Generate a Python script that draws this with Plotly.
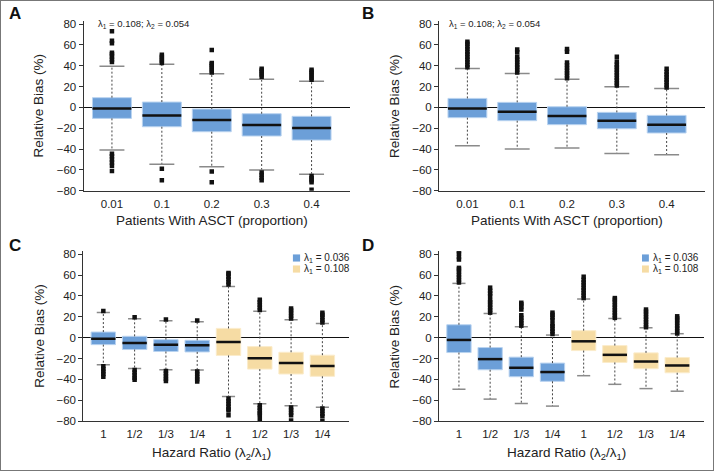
import plotly.graph_objects as go

FONT = 'Liberation Sans Narrow, Arial Narrow, Liberation Sans, Arial, sans-serif'
BLUE, BLUE_EDGE = '#6c9fd8', '#b9d3f0'
TAN, TAN_EDGE = '#f6dca4', '#fbeccb'

# ---- panel A / B: patients with ASCT (proportion) ----
asct_labels = ['0.01', '0.1', '0.2', '0.3', '0.4']

a_q1 = [-10.6, -18.6, -23.4, -27.5, -31.4]
a_med = [-1.0, -7.7, -12.2, -17.0, -19.8]
a_q3 = [9.3, 5.1, -1.6, -6.1, -8.6]
a_lo = [-41.0, -54.7, -57.0, -60.2, -64.3]
a_hi = [39.4, 41.3, 32.3, 26.9, 25.0]
a_out_hi = [
    [43.5, 46, 48.5, 51, 52.5, 61.5, 64, 73],
    [42.5, 44.5, 46.5, 48.5, 50.5],
    [33.5, 35.5, 37.5, 39.5, 41.5, 42.5, 55],
    [29.5, 31.5, 33.5, 35.5, 37],
    [26.5, 28.5, 30.5, 32.5, 34.5, 36],
]
a_out_lo = [
    [-44.5, -47, -50, -53, -56, -61],
    [-59, -70],
    [-61.5, -72],
    [-62.5, -65, -67.5, -70],
    [-66, -68, -70, -72, -79],
]

b_q1 = [-9.9, -12.8, -16.6, -20.5, -24.6]
b_med = [-1.0, -4.2, -8.3, -12.8, -16.6]
b_q3 = [8.6, 4.8, 0.6, -4.8, -7.7]
b_lo = [-36.8, -40.0, -39.0, -44.2, -45.4]
b_hi = [37.4, 32.6, 26.9, 19.8, 18.2]
b_out_hi = [
    [38.5, 41, 43.5, 46, 48.5, 51, 53.5, 56, 58.5, 61, 63],
    [33.5, 36, 38.5, 41, 43.5, 46, 48.5, 53, 55.5],
    [28, 30.5, 33, 35.5, 38, 40.5, 43, 53.5, 56],
    [21, 23.5, 26, 28.5, 31, 33.5, 36, 38.5, 41, 44, 48.5],
    [19, 21.5, 24, 26.5, 29, 31.5, 34, 37],
]
b_out_lo = [[], [], [], [], []]

# ---- panel C / D: hazard ratio (lambda2 / lambda1) ----
hr_labels = ['1', '1/2', '1/3', '1/4', '1', '1/2', '1/3', '1/4']
lambda1_groups = ['0.036', '0.108']

c_q1 = [-6.7, -11.4, -13.3, -13.7, -17.1, -30.2, -34.9, -37.1]
c_med = [-1.0, -5.1, -6.7, -7.3, -4.1, -19.7, -24.4, -27.3]
c_q3 = [5.4, 1.3, -1.9, -2.5, 8.9, -8.6, -14.0, -16.8]
c_lo = [-26.0, -29.5, -30.8, -31.1, -56.5, -63.5, -65.4, -66.7]
c_hi = [24.1, 18.1, 16.2, 15.2, 49.2, 25.4, 17.1, 13.7]
c_out_hi = [
    [25.5], [19.5], [17.5], [16.5],
    [51, 53.5, 56, 58.5, 61, 62],
    [26.5, 29, 31.5, 34, 36.5],
    [18.5, 21, 23.5, 26, 28],
    [14.5, 17, 19.5, 22, 24],
]
c_out_lo = [
    [-27.5, -30, -32.5, -35, -37.5],
    [-31, -33.5, -36, -38.5, -40.5],
    [-32, -34.5, -37, -39.5, -41.5],
    [-32.5, -35, -37.5, -40, -42],
    [-58.5, -61, -63.5, -66, -68.5, -70, -74.5],
    [-65, -67.5, -70, -72.5, -74, -78],
    [-67, -69.5, -72, -74.5, -79.5],
    [-68, -70.5, -73, -75.5, -80],
]

d_q1 = [-14.3, -30.8, -37.5, -41.9, -12.4, -23.8, -29.8, -33.7]
d_med = [-2.2, -20.6, -28.9, -33.0, -3.5, -16.5, -22.9, -26.7]
d_q3 = [12.4, -9.5, -18.7, -24.4, 6.7, -7.6, -14.6, -19.0]
d_lo = [-49.5, -59.0, -63.2, -65.7, -36.5, -44.8, -48.9, -51.4]
d_hi = [52.1, 23.2, 10.5, 2.5, 37.1, 18.4, 9.5, 3.8]
d_out_hi = [
    [53, 55.5, 58, 60.5, 63, 65.5, 67, 75, 77.5, 81, 83],
    [24, 26.5, 29, 31.5, 34, 36, 40, 42.5, 45, 48],
    [11.5, 14, 16.5, 19, 21.5, 27, 29.5, 32, 33.5],
    [3.5, 6, 8.5, 11, 13, 17, 19.5, 22, 24],
    [38, 40.5, 43, 45.5, 48, 50.5, 53, 55.5, 58.5],
    [19, 21.5, 24, 26.5, 29, 31.5, 34, 36.5, 38],
    [10, 12.5, 15, 17.5, 20, 22.5, 25, 27],
    [4, 6.5, 9, 11.5, 14, 16.5, 18.5, 20.5],
]
d_out_lo = [[] for _ in range(8)]

y_ticks = [-80, -60, -40, -20, 0, 20, 40, 60, 80]


def add_panel(fig, k, q1, med, q3, lo, hi, out_hi, out_lo, colors, edges, cap, bw=0.78):
    ax = '' if k == 1 else str(k)
    xa, ya = 'x' + ax, 'y' + ax
    pos = list(range(len(med)))
    # whiskers (dashed)
    wx, wy = [], []
    for i in pos:
        wx += [i, i, None, i, i, None]
        wy += [q3[i], hi[i], None, q1[i], lo[i], None]
    fig.add_trace(go.Scatter(x=wx, y=wy, mode='lines', xaxis=xa, yaxis=ya,
                             line=dict(color='#444', width=1, dash='2px,2px'),
                             hoverinfo='skip', showlegend=False))
    # boxes
    fig.add_trace(go.Bar(x=pos, base=q1, y=[b - a for a, b in zip(q1, q3)], width=bw,
                         marker=dict(color=colors, line=dict(color=edges, width=1)),
                         xaxis=xa, yaxis=ya, showlegend=False, hoverinfo='skip'))
    # caps
    cx, cy = [], []
    for i in pos:
        cx += [i - cap / 2, i + cap / 2, None, i - cap / 2, i + cap / 2, None]
        cy += [hi[i], hi[i], None, lo[i], lo[i], None]
    fig.add_trace(go.Scatter(x=cx, y=cy, mode='lines', xaxis=xa, yaxis=ya,
                             line=dict(color='#8a8a8a', width=1.5),
                             hoverinfo='skip', showlegend=False))
    # medians
    mx, my = [], []
    for i in pos:
        mx += [i - bw / 2, i + bw / 2, None]
        my += [med[i], med[i], None]
    fig.add_trace(go.Scatter(x=mx, y=my, mode='lines', xaxis=xa, yaxis=ya,
                             line=dict(color='#111', width=2.5),
                             hoverinfo='skip', showlegend=False))
    # outliers
    ox, oy = [], []
    for i in pos:
        vals = out_hi[i] + out_lo[i]
        ox += [i] * len(vals)
        oy += vals
    fig.add_trace(go.Scatter(x=ox, y=oy, mode='markers', xaxis=xa, yaxis=ya,
                             marker=dict(symbol='square', size=4.5, color='#111', line=dict(width=0)),
                             hoverinfo='skip', showlegend=False))


fig = go.Figure()
five_c = [BLUE] * 5
five_e = [BLUE_EDGE] * 5
eight_c = [BLUE] * 4 + [TAN] * 4
eight_e = [BLUE_EDGE] * 4 + [TAN_EDGE] * 4

add_panel(fig, 1, a_q1, a_med, a_q3, a_lo, a_hi, a_out_hi, a_out_lo, five_c, five_e, 0.5)
add_panel(fig, 2, b_q1, b_med, b_q3, b_lo, b_hi, b_out_hi, b_out_lo, five_c, five_e, 0.5)
add_panel(fig, 3, c_q1, c_med, c_q3, c_lo, c_hi, c_out_hi, c_out_lo, eight_c, eight_e, 0.42)
add_panel(fig, 4, d_q1, d_med, d_q3, d_lo, d_hi, d_out_hi, d_out_lo, eight_c, eight_e, 0.42)

W, H = 714, 471
dom = {
    1: ([83.5, 350], [20.9, 190.7], [-0.57, 4.77], asct_labels),
    2: ([439, 705], [20.9, 190.7], [-0.57, 4.77], asct_labels),
    3: ([83.3, 349.3], [251.2, 421], [-0.64, 7.86], hr_labels),
    4: ([439, 704], [251.2, 421], [-0.64, 7.86], hr_labels),
}
axes = {}
for k, (xp, yp, xr, labels) in dom.items():
    ax = '' if k == 1 else str(k)
    axes['xaxis' + ax] = dict(
        domain=[xp[0] / W, xp[1] / W], range=xr, anchor='y' + ax,
        tickvals=list(range(len(labels))), ticktext=labels,
        ticks='outside', ticklen=2, tickcolor='rgba(0,0,0,0)',
        showline=True, linecolor='#333', linewidth=1,
        showgrid=False, zeroline=False, automargin=False,
        tickfont=dict(family=FONT, size=11.5, color='#222'))
    axes['yaxis' + ax] = dict(
        domain=[1 - yp[1] / H, 1 - yp[0] / H], range=[-80, 83], anchor='x' + ax,
        tickvals=y_ticks, ticks='outside', ticklen=4, tickcolor='#333',
        showline=True, linecolor='#333', linewidth=1, automargin=False,
        showgrid=False, zeroline=True, zerolinecolor='#111', zerolinewidth=1.2,
        tickfont=dict(family=FONT, size=11.5, color='#222'))

ann = []
shapes = []
for k in (1, 2, 3, 4):
    ax = '' if k == 1 else str(k)
    xt = 'Patients With ASCT (proportion)' if k <= 2 else 'Hazard Ratio (λ<sub>2</sub>/λ<sub>1</sub>)'
    ann.append(dict(text=xt, xref='x' + ax + ' domain', yref='y' + ax + ' domain',
                    x=0.482, y=-0.175 if k <= 2 else -0.19, xanchor='center', yanchor='middle',
                    showarrow=False, font=dict(family=FONT, size=13.5, color='#222')))
    ann.append(dict(text='Relative Bias (%)', xref='x' + ax + ' domain', yref='y' + ax + ' domain',
                    x=-0.168, y=0.5, textangle=-90, xanchor='center', yanchor='middle',
                    showarrow=False, font=dict(family=FONT, size=13.5, color='#222')))

for k in (1, 2):
    ax = '' if k == 1 else str(k)
    ann.append(dict(text='λ<sub>1</sub> = 0.108; λ<sub>2</sub> = 0.054',
                    xref='x' + ax + ' domain', yref='y' + ax + ' domain',
                    x=0.046 if k == 1 else 0.03, y=0.982, xanchor='left', yanchor='middle',
                    showarrow=False, font=dict(family=FONT, size=9.5, color='#222')))

legend_pos = {3: (0.788, 0.815, 0.822), 4: (0.766, 0.792, 0.800)}
for k, (sx0, sx1, tx) in legend_pos.items():
    ax = str(k)
    for j, (g, col) in enumerate(zip(lambda1_groups, [BLUE, TAN])):
        yc = 0.960 - j * 0.065
        shapes.append(dict(type='rect', xref='x' + ax + ' domain', yref='y' + ax + ' domain',
                           x0=sx0, x1=sx1, y0=yc - 0.021, y1=yc + 0.021,
                           fillcolor=col, line=dict(width=0)))
        ann.append(dict(text='λ<sub>1</sub> = ' + g, xref='x' + ax + ' domain', yref='y' + ax + ' domain',
                        x=tx, y=yc, xanchor='left', yanchor='middle', showarrow=False,
                        font=dict(family=FONT, size=10, color='#222')))

for letter, px, py in [('A', 15, 14), ('B', 368, 14), ('C', 15, 245), ('D', 368, 245)]:
    ann.append(dict(text='<b>' + letter + '</b>', xref='paper', yref='paper',
                    x=px / W, y=1 - py / H, xanchor='center', yanchor='middle', showarrow=False,
                    font=dict(family='Liberation Sans, Arial, sans-serif', size=17, color='#111')))

shapes.append(dict(type='rect', xref='paper', yref='paper', x0=0, x1=1, y0=0, y1=1,
                   line=dict(color='#777', width=2), layer='above'))

fig.update_layout(
    width=W, height=H,
    margin=dict(l=0, r=0, t=0, b=0),
    paper_bgcolor='white', plot_bgcolor='white',
    barmode='overlay', showlegend=False,
    annotations=ann, shapes=shapes,
    **axes)

fig.write_html('out.html', config={'displayModeBar': False},
               post_script="document.body.style.margin='0';")
